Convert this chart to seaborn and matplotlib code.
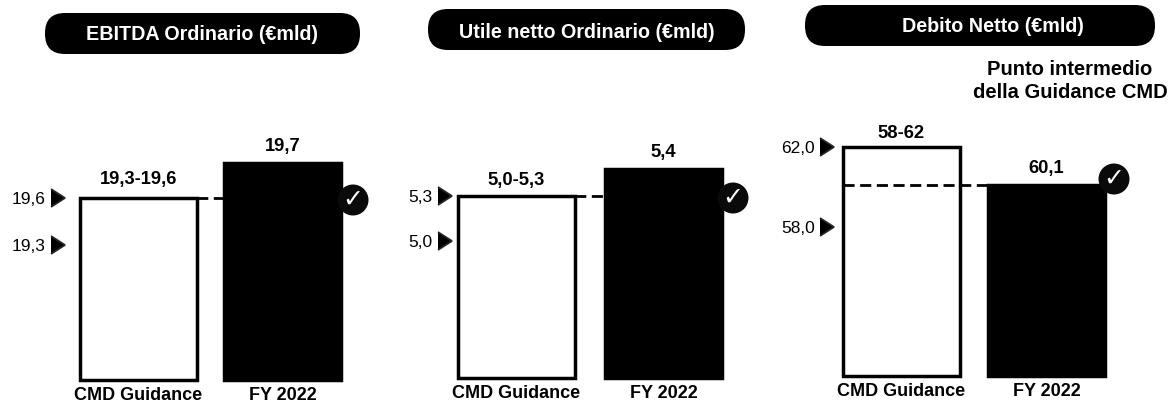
import numpy as np
import pandas as pd
import seaborn as sns
import matplotlib.pyplot as plt
from matplotlib.patches import FancyBboxPatch
from matplotlib.transforms import IdentityTransform

W, H = 1171, 403

categories = ["CMD Guidance", "FY 2022"]
titles = ["EBITDA Ordinario (€mld)", "Utile netto Ordinario (€mld)", "Debito Netto (€mld)"]
guidance_top = [19.6, 5.3, 62.0]
actual = [19.7, 5.4, 60.1]
range_labels = ["19,3-19,6", "5,0-5,3", "58-62"]
actual_labels = ["19,7", "5,4", "60,1"]
arrow_values = [[19.6, 19.3], [5.3, 5.0], [62.0, 58.0]]
arrow_labels = [["19,6", "19,3"], ["5,3", "5,0"], ["62,0", "58,0"]]
dash_values = [19.6, 5.3, 60.1]
note = "Punto intermedio\ndella Guidance CMD"

# layout in pixels, one entry per panel
ax_left = [65, 452, 834]
bar_left = [80, 458, 843]
bar_right = [341, 722, 1105]
baseline = [380, 378, 376]
bar_w = 117
# the source axes are not linear, so each panel gets its own value -> pixel height table
scale_vals = [[0, 19.3, 19.6, 19.7], [0, 5.0, 5.3, 5.4], [0, 58.0, 60.1, 62.0]]
scale_px = [[0, 135, 182, 217], [0, 137, 182, 209], [0, 149, 191, 229]]
pills = [(45, 13, 315, 41), (428, 9, 317, 41), (805, 5, 350, 41)]
title_pos = [(202, 34), (587, 32), (993, 27)]
check_offset = [(12, -2), (11, -2), (9, 6)]
range_pad = [19, 16, 13]

sns.set_theme(style="white")
plt.rcParams["font.family"] = ["Liberation Sans", "DejaVu Sans"]

fig = plt.figure(figsize=(W / 100, H / 100), dpi=100)
fig.patch.set_facecolor("white")

for i in range(3):
    vals = [guidance_top[i], actual[i]]
    df = pd.DataFrame({"cat": categories, "val": vals})
    top_px = scale_px[i][-1]
    left = ax_left[i]
    right = bar_right[i]
    ax = fig.add_axes([left / W, 1 - baseline[i] / H, (right - left) / W, top_px / H])
    sns.barplot(data=df, x="cat", y="val", hue="cat", palette=["white", "black"], dodge=False,
                legend=False, width=bar_w / (bar_right[i] - bar_left[i] - bar_w),
                edgecolor="black", linewidth=2.5, ax=ax, zorder=3)
    for p in ax.patches:
        p.set_clip_on(False)

    sv, sp = scale_vals[i], scale_px[i]
    ax.set_yscale("function", functions=(lambda v, a=sv, b=sp: np.interp(v, a, b),
                                         lambda v, a=sv, b=sp: np.interp(v, b, a)))
    ax.set_ylim(0, max(sv))
    spacing = bar_right[i] - bar_left[i] - bar_w
    x0 = bar_left[i] + bar_w / 2
    ax.set_xlim((left - x0) / spacing, (right - x0) / spacing)

    sns.despine(ax=ax, left=True, bottom=True)
    ax.set_xlabel("")
    ax.set_ylabel("")
    ax.set_yticks(arrow_values[i], arrow_labels[i])
    ax.yaxis.set_minor_locator(plt.NullLocator())
    ax.tick_params(axis="y", left=True, length=0, pad=14, labelsize=12.5, labelcolor="black")
    for t in ax.yaxis.get_major_ticks():
        t.tick1line.set_marker(5)
        t.tick1line.set_markersize(13)
        t.tick1line.set_color("black")
    ax.tick_params(axis="x", length=0, pad=5, labelsize=13, labelcolor="black")
    for lab in ax.get_xticklabels():
        lab.set_fontweight("bold")
    ax.patch.set_alpha(0)

    half = bar_w / spacing / 2
    ax.hlines(dash_values[i], -half, 1, color="black", linewidth=2, linestyle=(0, (4, 2)),
              zorder=4, clip_on=False)

    ax.annotate(range_labels[i], (0, vals[0]), xytext=(0, range_pad[i] * 0.72), textcoords="offset points",
                ha="center", va="center", fontsize=13.2, fontweight="bold", color="black", annotation_clip=False)
    ax.annotate(actual_labels[i], (1, vals[1]), xytext=(0, 17 * 0.72), textcoords="offset points",
                ha="center", va="center", fontsize=13.2, fontweight="bold", color="black", annotation_clip=False)

    # check badge beside the FY bar
    ox, oy = check_offset[i]
    ax.annotate("✓", (1 + half, dash_values[i]), xytext=(ox * 0.72, oy * 0.72), textcoords="offset points",
                ha="center", va="center", fontsize=18, color="white", family="DejaVu Sans", zorder=7,
                annotation_clip=False,
                bbox=dict(boxstyle="circle,pad=0.14", facecolor="#0a0a0a", edgecolor="none"))

    # title pill
    px, py, pw, ph = pills[i]
    fig.add_artist(FancyBboxPatch((px + 20, H - py - ph + 20), pw - 40, ph - 40,
                                  boxstyle="round,pad=20,rounding_size=20", facecolor="black",
                                  edgecolor="none", transform=IdentityTransform()))
    tx, ty = title_pos[i]
    fig.text(tx / W, 1 - ty / H, titles[i], color="white", ha="center", va="center",
             fontsize=14.2, fontweight="bold")

fig.text(1070 / W, 1 - 81 / H, note, ha="center", va="center", fontsize=14.5, fontweight="bold",
         color="black", linespacing=1.3)

fig.savefig("out.png", dpi=100)
